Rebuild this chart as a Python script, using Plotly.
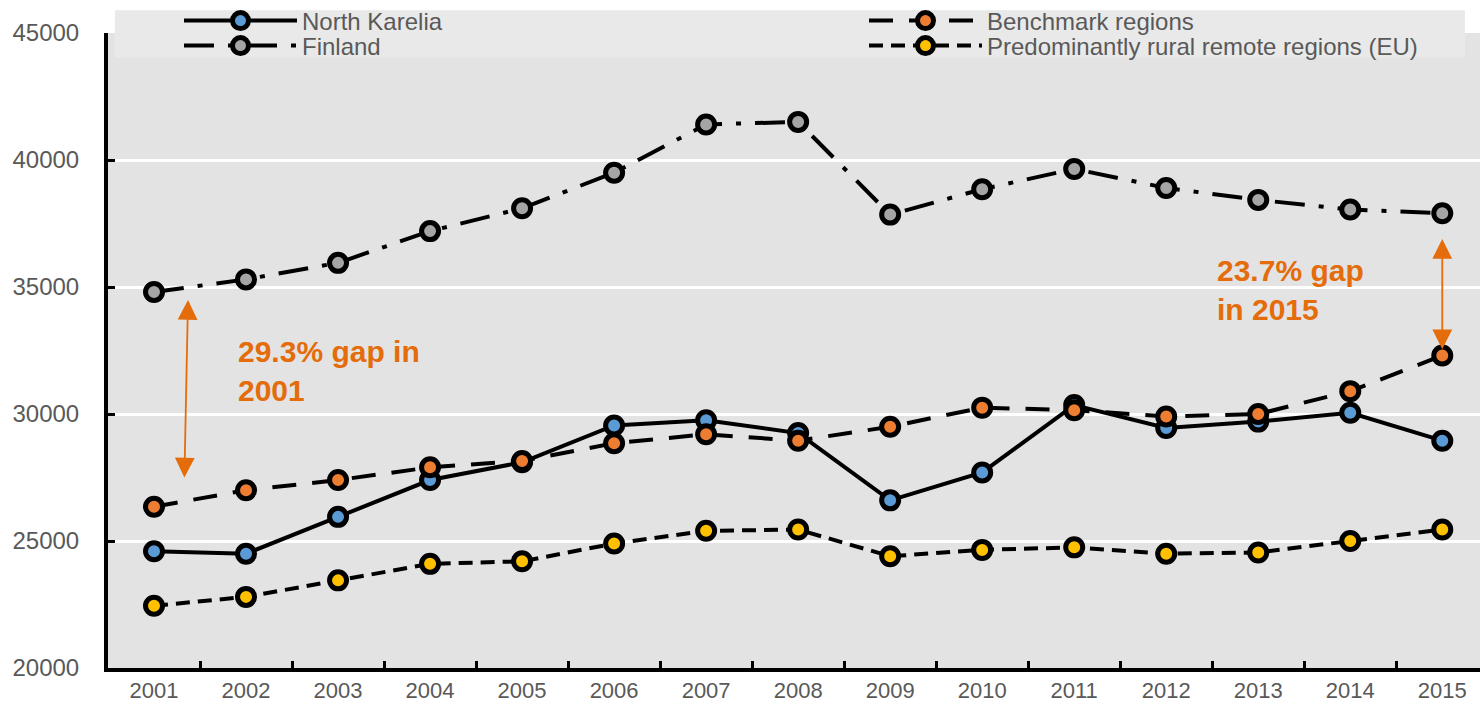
import plotly.graph_objects as go

# GDP per capita series, 2001-2015
years = [str(y) for y in range(2001, 2016)]
north_karelia = [24600, 24500, 25950, 27400, 28100, 29550, 29750, 29250,
                 26600, 27700, 30350, 29450, 29700, 30050, 28950]
benchmark = [26350, 27000, 27400, 27900, 28150, 28850, 29200, 28950,
             29500, 30250, 30150, 29900, 30000, 30900, 32300]
finland = [34800, 35300, 35950, 37200, 38100, 39500, 41400, 41500,
           37850, 38850, 39650, 38900, 38430, 38050, 37900]
rural_remote = [22450, 22800, 23450, 24100, 24200, 24900, 25400, 25450,
                24400, 24650, 24750, 24500, 24550, 25000, 25450]
y_ticks = [20000, 25000, 30000, 35000, 40000, 45000]

FONT = "Liberation Sans, Arial, sans-serif"
GREY_TEXT = "#595959"
ORANGE = "#E46C0A"
W, H = 1480, 702

# name, values, dash, marker fill, legend id, legend anchor (px from left, px from top)
series = [
    ("North Karelia", north_karelia, "solid", "#5B9BD5", "legend", (179, 21)),
    ("Benchmark regions", benchmark, "24px,16px", "#ED7D31", "legend2", (864, 21)),
    ("Finland", finland, "30px,14px,5px,14px", "#A5A5A5", "legend3", (179, 46)),
    ("Predominantly rural remote regions (EU)", rural_remote, "14px,8px", "#FFC000",
     "legend4", (864, 46)),
]

fig = go.Figure()
legend_layouts = {}
for name, vals, dash, fill, leg, (lx, ly) in series:
    fig.add_trace(go.Scatter(
        x=years, y=vals, name=name, mode="lines+markers", legend=leg,
        line=dict(color="black", width=4, dash=dash),
        marker=dict(symbol="circle", size=17, color=fill,
                    line=dict(color="black", width=5)),
    ))
    legend_layouts[leg] = dict(
        xref="container", yref="container", x=lx / W, y=1 - ly / H,
        xanchor="left", yanchor="middle", bgcolor="rgba(0,0,0,0)",
        itemwidth=113, font=dict(family=FONT, size=24, color=GREY_TEXT),
        itemclick=False, itemdoubleclick=False,
    )

# Gap annotations
fig.add_annotation(x=0.89, y=31700, xref="x", yref="y", showarrow=False,
                   text="<b>29.3% gap in<br>2001</b>", xanchor="left", align="left",
                   font=dict(family=FONT, size=30, color=ORANGE))
fig.add_annotation(x=11.53, y=34880, xref="x", yref="y", showarrow=False,
                   text="<b>23.7% gap<br>in 2015</b>", xanchor="left", align="left",
                   font=dict(family=FONT, size=30, color=ORANGE))

# Double-headed arrows marking the gaps
for (x0, y0, x1, y1) in [(0.37, 34550, 0.33, 27500), (14.0, 36950, 14.0, 32550)]:
    fig.add_annotation(x=x1, y=y1, ax=x0, ay=y0, xref="x", yref="y",
                       axref="x", ayref="y", text="", showarrow=True,
                       arrowside="end+start", arrowhead=2, startarrowhead=2,
                       arrowsize=2.2, startarrowsize=2.2, arrowwidth=1.8,
                       arrowcolor=ORANGE, standoff=0, startstandoff=0)

# Legend backdrop
fig.add_shape(type="rect", xref="paper", yref="paper",
              x0=0.005, x1=0.989, y0=0.962, y1=1.036,
              fillcolor="#E9E9E9", line=dict(width=0), layer="below")

fig.update_layout(
    width=W, height=H,
    margin=dict(l=108, r=0, t=33, b=34, autoexpand=False),
    paper_bgcolor="white",
    plot_bgcolor="#E3E3E3",
    font=dict(family=FONT, color=GREY_TEXT, size=22),
    showlegend=True,
    xaxis=dict(type="category", range=[-0.5, 14.41], showgrid=False,
               showline=True, linecolor="black", linewidth=4,
               ticks="inside", tickson="boundaries", ticklen=7, tickwidth=3,
               tickcolor="black", tickfont=dict(size=22, color=GREY_TEXT),
               ticklabelstandoff=0, tickangle=0, zeroline=False),
    yaxis=dict(range=[20000, 45000], tickvals=y_ticks,
               ticktext=[str(v) for v in y_ticks],
               showgrid=True, gridcolor="white", gridwidth=3,
               showline=True, linecolor="black", linewidth=4,
               ticks="inside", ticklen=7, tickwidth=3, tickcolor="black",
               ticklabelstandoff=20,
               tickfont=dict(size=24, color=GREY_TEXT), zeroline=False),
    **legend_layouts,
)

fig.write_html("out.html")
